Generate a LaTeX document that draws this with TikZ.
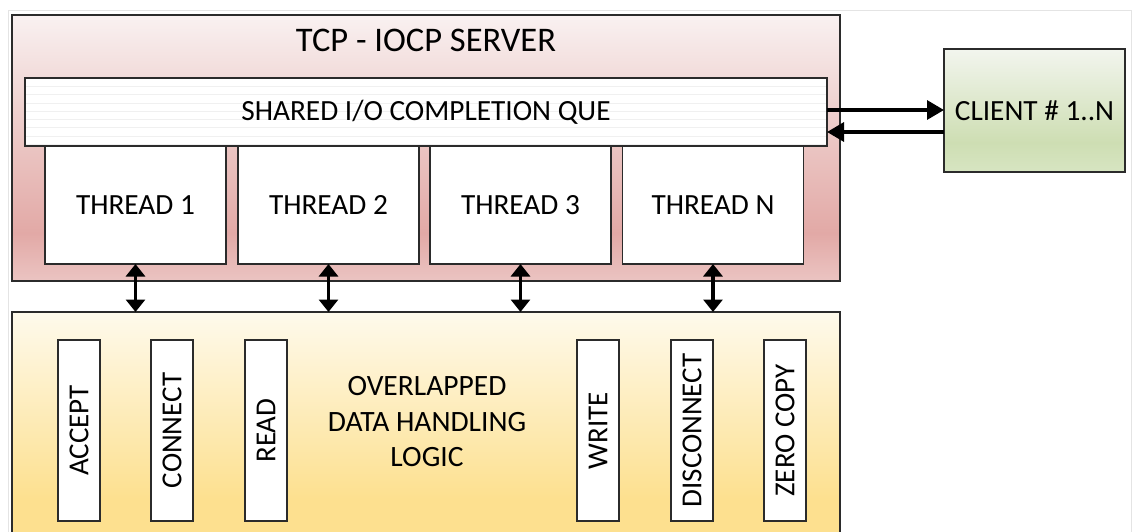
\documentclass[tikz,border=0pt]{standalone}
\usepackage{fontspec}
\setmainfont{Carlito}
\usetikzlibrary{calc,arrows.meta}

\definecolor{srvTop}{HTML}{F9F1F1}
\definecolor{srvMid}{HTML}{EFD2D0}
\definecolor{srvDeep}{HTML}{E2A9A6}
\definecolor{srvBot}{HTML}{EBC4C2}
\definecolor{logTop}{HTML}{FEFAEC}
\definecolor{logBot}{HTML}{FDE08F}
\definecolor{cliTop}{HTML}{F2F5EE}
\definecolor{cliDeep}{HTML}{CEDEB3}
\definecolor{cliBot}{HTML}{D7E5C2}
\definecolor{frame}{HTML}{E4E4E4}
\definecolor{edge}{HTML}{2B2B2B}

% vertical shadings: the part between 25bp and 75bp spans the filled shape
\pgfdeclareverticalshading{serverfill}{100bp}{%
  color(0bp)=(srvBot); color(25bp)=(srvBot); color(34bp)=(srvDeep);
  color(58bp)=(srvMid); color(75bp)=(srvTop); color(100bp)=(srvTop)}
\pgfdeclareverticalshading{logicfill}{100bp}{%
  color(0bp)=(logBot); color(25bp)=(logBot); color(40bp)=(logBot);
  color(75bp)=(logTop); color(100bp)=(logTop)}
\pgfdeclareverticalshading{clientfill}{100bp}{%
  color(0bp)=(cliBot); color(25bp)=(cliBot); color(37bp)=(cliDeep);
  color(75bp)=(cliTop); color(100bp)=(cliTop)}

\tikzset{
  box/.style={draw=edge, line width=1.4pt, rectangle, inner sep=0pt, outer sep=0pt},
  labeltext/.style={font=\fontsize{29.3}{35}\selectfont},
  threadbox/.style={box, fill=white, minimum width=181pt, minimum height=118pt, labeltext},
  opbox/.style={box, fill=white, minimum width=42pt, minimum height=181pt},
  optext/.style={rotate=90, font=\fontsize{29}{35}\selectfont},
  stripe/.style={draw=black!6, line width=0.8pt},
  link/.style={line width=3.3pt, -{Triangle[length=17pt,width=19pt]}},
  duplex/.style={line width=3.3pt, {Triangle[length=12.5pt,width=19pt]}-{Triangle[length=12.5pt,width=19pt]}}
}

\begin{document}
\begin{tikzpicture}[x=1pt, y=-1pt]
  \clip (0,0) rectangle (1133,531);
  \fill[white] (0,0) rectangle (1133,531);
  % light frame around the sheet
  \draw[frame, line width=1pt] (8,560) -- (8,10) -- (1131,10) -- (1131,560);

  % server block
  \node[box, shading=serverfill, minimum width=828pt, minimum height=266pt] (server) at (426,148) {};
  \node[font=\fontsize{34.5}{40}\selectfont] (title) at (426,40) {TCP - IOCP SERVER};

  % shared completion queue
  \node[box, fill=white, minimum width=802pt, minimum height=68pt, labeltext,
        path picture={\foreach \k in {1,...,8}{
          \draw[stripe] ($(path picture bounding box.north west)+(0,8.3*\k)$) --
                        ($(path picture bounding box.north east)+(0,8.3*\k)$);}}]
        (queue) at (426,112) {SHARED I/O COMPLETION QUE};

  % worker threads
  \node[threadbox] (t1) at (135.5,205) {THREAD 1};
  \node[threadbox] (t2) at (328.5,205) {THREAD 2};
  \node[threadbox] (t3) at (520.5,205) {THREAD 3};
  \node[threadbox] (tn) at (713,205) {THREAD N};

  % data handling logic
  \node[box, shading=logicfill, minimum width=828pt, minimum height=266pt] (logic) at (426,445) {};
  \node[align=center, font=\fontsize{29.5}{35.5}\selectfont] (logictext) at (427,422)
       {OVERLAPPED\\DATA HANDLING\\LOGIC};

  \node[opbox] (accept) at (79,430.5) {};
  \node[optext] at (accept.center) {ACCEPT};
  \node[opbox] (connect) at (172,430.5) {};
  \node[optext] at (connect.center) {CONNECT};
  \node[opbox] (read) at (266,430.5) {};
  \node[optext] at (read.center) {READ};
  \node[opbox] (write) at (598,430.5) {};
  \node[optext] at (write.center) {WRITE};
  \node[opbox] (disc) at (692,430.5) {};
  \node[optext] at (disc.center) {DISCONNECT};
  \node[opbox] (zero) at (785,430.5) {};
  \node[optext] at (zero.center) {ZERO COPY};

  % client
  \node[box, shading=clientfill, minimum width=181pt, minimum height=123pt, labeltext]
       (client) at (1034.5,110.5) {CLIENT \# 1..N};

  % thread <-> logic links
  \foreach \t in {t1,t2,t3,tn}
    \draw[duplex] (\t.south) -- (\t.south |- logic.north);

  % queue <-> client links
  \draw[link] ($(queue.east)+(0,-2)$) -- ($(client.west)+(0,-0.5)$);
  \draw[link] ($(client.west)+(0,21.5)$) -- ($(queue.east)+(0,20)$);
\end{tikzpicture}
\end{document}
